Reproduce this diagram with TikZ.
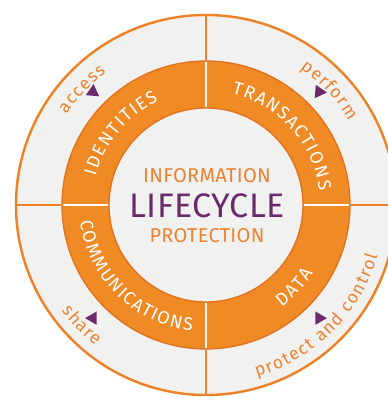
\documentclass[tikz,border=0pt]{standalone}
\usepackage{fontspec}
\setmainfont{Fira Sans}
\usetikzlibrary{decorations.text,shapes.geometric}
\definecolor{bandor}{HTML}{F08A24}
\definecolor{bandedge}{HTML}{E2711F}
\definecolor{ringor}{HTML}{EE8025}
\definecolor{greyfill}{HTML}{F1F1F0}
\definecolor{purp}{HTML}{6B2A6C}
\definecolor{txtor}{HTML}{EC8232}
\newfontfamily\ctrfont[LetterSpace=1.5]{Fira Sans}
\newcommand\bandfnt{\fontsize{18}{18}\selectfont}
\newcommand\lblfnt{\fontsize{17.5}{17.5}\selectfont}
\tikzset{
  bandtext/.style={decorate, decoration={text along path, text align=center, text color=white, text={|\bandfnt|#1}}},
  lbltext/.style={decorate, decoration={text along path, text align=center, text color=txtor, text={|\lblfnt|#1}}},
  tri/.style={regular polygon, regular polygon sides=3, fill=purp, inner sep=0pt, minimum size=15.5pt},
  ctr/.style={anchor=base, inner sep=0pt}
}
\begin{document}
\begin{tikzpicture}[x=1pt,y=1pt]
\clip (-206,-192) rectangle (182,205);
\fill[white] (-206,-192) rectangle (182,205);
% outer disk
\fill[greyfill] (0,0) circle[radius=191pt];
\draw[ringor, line width=2.4pt] (0,0) circle[radius=190pt];
% band
\fill[bandor, even odd rule] (0,0) circle[radius=144pt] (0,0) circle[radius=97pt];
\draw[bandedge, line width=1.3pt] (0,0) circle[radius=144pt];
\draw[bandedge, line width=1.3pt] (0,0) circle[radius=97pt];
% dividers
\foreach \a in {0,90,180,270}{
  \draw[white, line width=1.2pt] (\a:97.7pt) -- (\a:143.3pt);
  \draw[ringor, line width=1.2pt] (\a:144.7pt) -- (\a:189pt);
}
% band texts (top: clockwise, bottom: counterclockwise)
\path[bandtext={{I\kern1.5pt}{D\kern1.5pt}{E\kern1.5pt}{N\kern1.5pt}{T\kern1.5pt}{I\kern1.5pt}{T\kern1.5pt}{I\kern1.5pt}{E\kern1.5pt}{S}}]
  (230:114pt) arc[start angle=230, end angle=50, radius=114pt];
\path[bandtext={{T\kern1.5pt}{R\kern1.5pt}{A\kern1.5pt}{N\kern1.5pt}{S\kern1.5pt}{A\kern1.5pt}{C\kern1.5pt}{T\kern1.5pt}{I\kern1.5pt}{O\kern1.5pt}{N\kern1.5pt}{S}}]
  (132:114pt) arc[start angle=132, end angle=-48, radius=114pt];
\path[bandtext={{C\kern1.5pt}{O\kern1.5pt}{M\kern1.5pt}{M\kern1.5pt}{U\kern1.5pt}{N\kern1.5pt}{I\kern1.5pt}{C\kern1.5pt}{A\kern1.5pt}{T\kern1.5pt}{I\kern1.5pt}{O\kern1.5pt}{N\kern1.5pt}{S}}]
  (135.5:127pt) arc[start angle=135.5, end angle=315.5, radius=127pt];
\path[bandtext={{D\kern1.5pt}{A\kern1.5pt}{T\kern1.5pt}{A}}]
  (-133:127pt) arc[start angle=-133, end angle=47, radius=127pt];
% outer labels
\path[lbltext={{a\kern1.3pt}{c\kern1.3pt}{c\kern1.3pt}{e\kern1.3pt}{s\kern1.3pt}{s}}]
  (227:166pt) arc[start angle=227, end angle=47, radius=166pt];
\path[lbltext={{p\kern1.3pt}{e\kern1.3pt}{r\kern1.3pt}{f\kern1.3pt}{o\kern1.3pt}{r\kern1.3pt}{m}}]
  (133:166pt) arc[start angle=133, end angle=-47, radius=166pt];
\path[lbltext={{s\kern1.3pt}{h\kern1.3pt}{a\kern1.3pt}{r\kern1.3pt}{e}}]
  (134:179pt) arc[start angle=134, end angle=314, radius=179pt];
\path[lbltext={{p\kern1.3pt}{r\kern1.3pt}{o\kern1.3pt}{t\kern1.3pt}{e\kern1.3pt}{c\kern1.3pt}{t\kern1.3pt}{ \kern1.3pt}{a\kern1.3pt}{n\kern1.3pt}{d\kern1.3pt}{ \kern1.3pt}{c\kern1.3pt}{o\kern1.3pt}{n\kern1.3pt}{t\kern1.3pt}{r\kern1.3pt}{o\kern1.3pt}{l}}]
  (-135:179pt) arc[start angle=-135, end angle=45, radius=179pt];
% triangles
\node[tri, rotate=-5] (t1) at (135:160pt) {};
\node[tri, rotate=-95] (t2) at (45:160pt) {};
\node[tri, rotate=90] (t3) at (225:160pt) {};
\node[tri, rotate=-90] (t4) at (-45:160pt) {};
% centre text
\node[ctr, text=txtor, font={\ctrfont\fontsize{20}{20}\selectfont}] (info) at (1,23) {INFORMATION};
\node[ctr, text=purp, font={\ctrfont\fontsize{34}{34}\selectfont}] (life) at (1,-12) {LIFECYCLE};
\node[ctr, text=txtor, font={\ctrfont\fontsize{20}{20}\selectfont}] (prot) at (1,-37) {PROTECTION};
\end{tikzpicture}
\end{document}
